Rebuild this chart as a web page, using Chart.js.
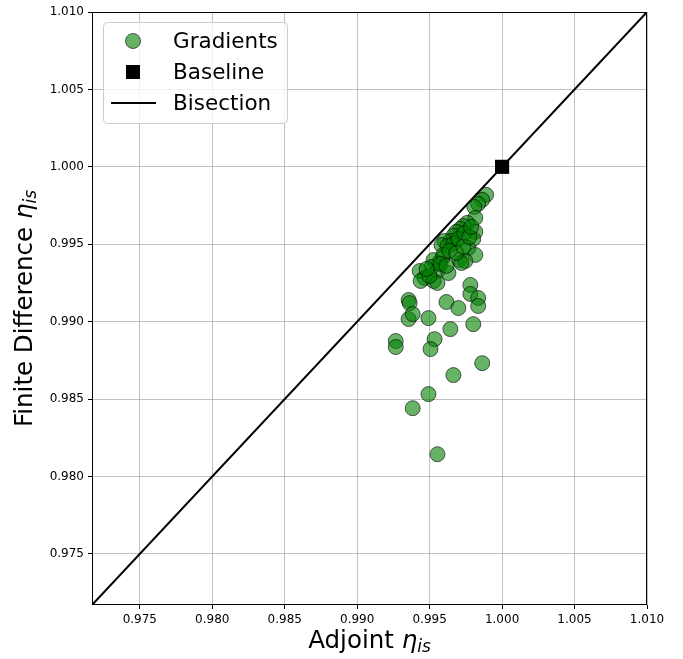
<!DOCTYPE html>
<html>
<head>
<meta charset="utf-8">
<script src="https://cdn.jsdelivr.net/npm/chart.js@4/dist/chart.umd.min.js"></script>
<style>
  html, body { margin: 0; padding: 0; background: #fff; }
  canvas { display: block; }
</style>
</head>
<body>
<canvas id="chart" width="683" height="659"></canvas>
<script>
// --- Datos ---
const adjointX = [
  0.99890, 0.99863, 0.99835, 0.99808, 0.99815, 0.99815, 0.99801, 0.99760, 0.99733, 0.99712,
  0.99684, 0.99664, 0.99643, 0.99602, 0.99582, 0.99623, 0.99664, 0.99698, 0.99739, 0.99767,
  0.99815, 0.99705, 0.99746, 0.99588, 0.99561, 0.99527, 0.99513, 0.99554, 0.99630, 0.99719,
  0.99431, 0.99465, 0.99527, 0.99438, 0.99554, 0.99616, 0.99698, 0.99781, 0.99781, 0.99835,
  0.99835, 0.99355, 0.99362, 0.99355, 0.99383, 0.99492, 0.99801, 0.99643, 0.99534, 0.99506,
  0.99266, 0.99266, 0.99863, 0.99664, 0.99492, 0.99383, 0.99554, 0.99595, 0.99636, 0.99684,
  0.99499, 0.99479, 0.99575, 0.99616, 0.99733, 0.99774, 0.99787
];
const finiteY = [
  0.99819, 0.99787, 0.99761, 0.99741, 0.99670, 0.99580, 0.99534, 0.99638, 0.99618, 0.99599,
  0.99580, 0.99554, 0.99521, 0.99521, 0.99495, 0.99489, 0.99502, 0.99534, 0.99573, 0.99476,
  0.99431, 0.99398, 0.99392, 0.99411, 0.99379, 0.99398, 0.99353, 0.99327, 0.99314, 0.99379,
  0.99327, 0.99282, 0.99263, 0.99263, 0.99250, 0.99127, 0.99088, 0.99237, 0.99179, 0.99153,
  0.99101, 0.99140, 0.99120, 0.99017, 0.99049, 0.99023, 0.98984, 0.98952, 0.98887, 0.98823,
  0.98875, 0.98836, 0.98732, 0.98655, 0.98532, 0.98441, 0.98144, 0.99431, 0.99457, 0.99444,
  0.99295, 0.99340, 0.99373, 0.99360, 0.99483, 0.99547, 0.99612
];
const baseline = [1.0, 1.0];
const axisMin = 0.9717;
const axisMax = 1.010;
const xTicks = [0.975, 0.980, 0.985, 0.990, 0.995, 1.000, 1.005, 1.010];
const yTicks = [0.975, 0.980, 0.985, 0.990, 0.995, 1.000, 1.005, 1.010];

const FONT = "'DejaVu Sans', sans-serif";
const GREEN_FILL = 'rgba(0,128,0,0.6)';
const GREEN_EDGE = 'rgba(0,0,0,0.6)';

// --- Plugin: marco, leyenda y titulos de ejes ---
const decorPlugin = {
  id: 'decor',
  afterDraw(chart) {
    const ctx = chart.ctx;
    const a = chart.chartArea;
    ctx.save();

    // marco completo (spines)
    ctx.strokeStyle = '#000';
    ctx.lineWidth = 1;
    ctx.strokeRect(Math.round(a.left) + 0.5, Math.round(a.top) + 0.5,
      Math.round(a.right - a.left) - 1, Math.round(a.bottom - a.top) - 1);

    // leyenda
    const lx = 103, ly = 22, lw = 184, lh = 101;
    ctx.beginPath();
    ctx.roundRect(lx + 0.5, ly + 0.5, lw, lh, 4);
    ctx.fillStyle = 'rgba(255,255,255,0.8)';
    ctx.fill();
    ctx.strokeStyle = '#cccccc';
    ctx.lineWidth = 1;
    ctx.stroke();

    const ds = chart.data.datasets;
    const rows = [41, 72, 103];
    ctx.font = '21.5px ' + FONT;
    ctx.textBaseline = 'middle';
    ctx.textAlign = 'left';
    // Gradients
    ctx.beginPath();
    ctx.arc(133, rows[0], 7.5, 0, Math.PI * 2);
    ctx.fillStyle = GREEN_FILL;
    ctx.fill();
    ctx.strokeStyle = GREEN_EDGE;
    ctx.stroke();
    // Baseline
    ctx.fillStyle = '#000';
    ctx.fillRect(126, rows[1] - 7, 14, 14);
    // Bisection
    ctx.beginPath();
    ctx.moveTo(111, rows[2]);
    ctx.lineTo(156, rows[2]);
    ctx.lineWidth = 2;
    ctx.strokeStyle = '#000';
    ctx.stroke();

    ctx.fillStyle = '#000';
    ctx.fillText(ds[0].label, 173, rows[0] + 1);
    ctx.fillText(ds[2].label, 173, rows[1] + 1);
    ctx.fillText(ds[1].label, 173, rows[2] + 1);

    // titulos de ejes con subindice
    const parts = (prefix) => [
      { t: prefix, f: '24.5px ' + FONT, dy: 0 },
      { t: 'η', f: 'italic 24.5px ' + FONT, dy: 0 },
      { t: 'is', f: 'italic 17px ' + FONT, dy: 6 }
    ];
    const drawTitle = (items, cx, cy, rot) => {
      ctx.save();
      ctx.translate(cx, cy);
      ctx.rotate(rot);
      let total = 0;
      items.forEach(p => { ctx.font = p.f; total += ctx.measureText(p.t).width; });
      let x = -total / 2;
      ctx.textBaseline = 'middle';
      ctx.textAlign = 'left';
      ctx.fillStyle = '#000';
      items.forEach(p => {
        ctx.font = p.f;
        ctx.fillText(p.t, x, p.dy);
        x += ctx.measureText(p.t).width;
      });
      ctx.restore();
    };
    drawTitle(parts('Adjoint '), (a.left + a.right) / 2, 642, 0);
    drawTitle(parts('Finite Difference '), 26, (a.top + a.bottom) / 2, -Math.PI / 2);

    ctx.restore();
  }
};

const scaleBase = (ticks, fit) => ({
  type: 'linear',
  min: axisMin,
  max: axisMax,
  afterBuildTicks: (axis) => { axis.ticks = ticks.map(v => ({ value: v })); },
  afterFit: fit,
  grid: {
    color: '#b0b0b0',
    lineWidth: 0.8,
    drawTicks: true,
    tickLength: 4,
    tickColor: '#000',
    tickWidth: 1
  },
  border: { display: false },
  ticks: {
    color: '#000',
    font: { family: FONT, size: 12 },
    padding: 4,
    maxRotation: 0,
    autoSkip: false,
    callback: (v) => Number(v).toFixed(3)
  },
  title: { display: false }
});

new Chart(document.getElementById('chart'), {
  type: 'scatter',
  data: {
    datasets: [
      {
        label: 'Gradients',
        data: adjointX.map((x, i) => ({ x: x, y: finiteY[i] })),
        backgroundColor: GREEN_FILL,
        borderColor: GREEN_EDGE,
        borderWidth: 1,
        pointRadius: 7.5,
        order: 2
      },
      {
        label: 'Bisection',
        type: 'line',
        data: [{ x: axisMin, y: axisMin }, { x: axisMax, y: axisMax }],
        borderColor: '#000',
        borderWidth: 2,
        pointRadius: 0,
        fill: false,
        order: 1
      },
      {
        label: 'Baseline',
        data: [{ x: baseline[0], y: baseline[1] }],
        pointStyle: 'rect',
        pointRadius: 10,
        backgroundColor: '#000',
        borderColor: '#000',
        borderWidth: 0,
        order: 0
      }
    ]
  },
  options: {
    responsive: false,
    animation: false,
    devicePixelRatio: 1,
    layout: { padding: { top: 12, right: 36, left: 0, bottom: 0 } },
    scales: {
      x: scaleBase(xTicks, (s) => { s.height = 54; }),
      y: scaleBase(yTicks, (s) => { s.width = 92; })
    },
    plugins: {
      legend: { display: false },
      tooltip: { enabled: false }
    }
  },
  plugins: [decorPlugin]
});
</script>
</body>
</html>
